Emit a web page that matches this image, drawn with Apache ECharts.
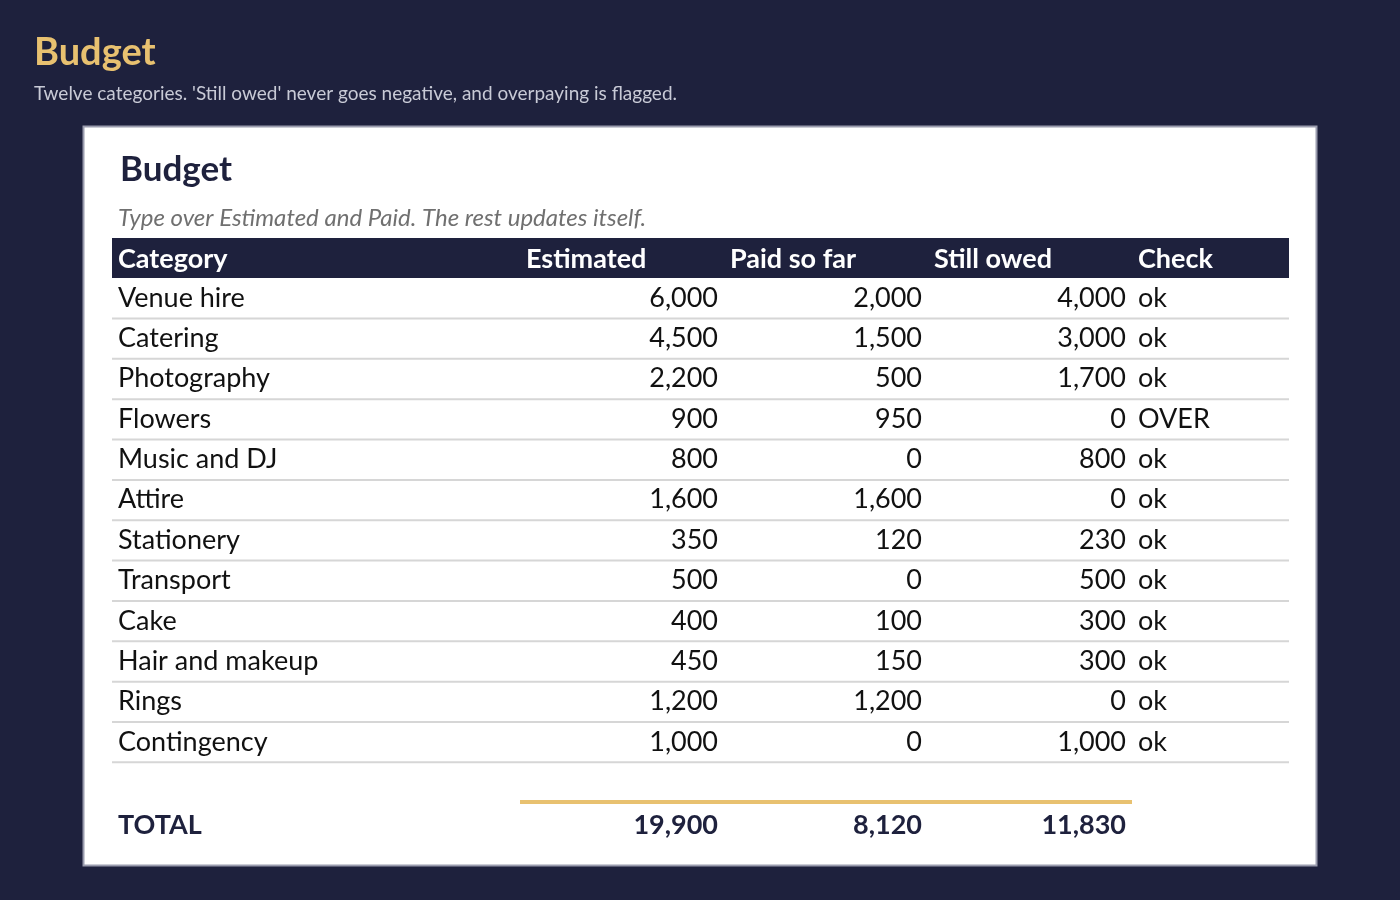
<!DOCTYPE html>
<html>
<head>
<meta charset="utf-8">
<script src="https://cdn.jsdelivr.net/npm/echarts@6/dist/echarts.min.js"></script>
<style>html,body{margin:0;padding:0;background:#1e213d;}#main{width:1400px;height:900px;}</style>
</head>
<body>
<div id="main"></div>
<script>
// table data
var headers = ['Category', 'Estimated', 'Paid so far', 'Still owed', 'Check'];
var categories = ['Venue hire','Catering','Photography','Flowers','Music and DJ','Attire','Stationery','Transport','Cake','Hair and makeup','Rings','Contingency'];
var estimated = [6000,4500,2200,900,800,1600,350,500,400,450,1200,1000];
var paid = [2000,1500,500,950,0,1600,120,0,100,150,1200,0];
var owed = [4000,3000,1700,0,800,0,230,500,300,300,0,1000];
var checks = ['ok','ok','ok','OVER','ok','ok','ok','ok','ok','ok','ok','ok'];
var totals = [19900, 8120, 11830];

var chart = echarts.init(document.getElementById('main'));
var font = 'Lato, "Open Sans", sans-serif';
function fmt(v){ return v.toLocaleString('en-US'); }

var els = [];
els.push({type:'text', left:34, top:34, style:{text:'Budget', fill:'#e8c170', font:'bold 38px ' + font}});
els.push({type:'text', left:34, top:84, style:{text:"Twelve categories. 'Still owed' never goes negative, and overpaying is flagged.", fill:'#c8cad6', font:'19px ' + font}});
els.push({type:'rect', shape:{x:83.5, y:126.5, width:1233, height:739}, style:{fill:'#fff', stroke:'#9a9cae', lineWidth:2}});
els.push({type:'text', x:120, y:170, style:{text:'Budget', fill:'#1e213d', font:'bold 35px ' + font, verticalAlign:'middle'}});
els.push({type:'text', x:118, y:218, style:{text:'Type over Estimated and Paid. The rest updates itself.', fill:'#707070', font:'italic 24px ' + font, verticalAlign:'middle'}});
els.push({type:'rect', shape:{x:112, y:238, width:1177, height:40}, style:{fill:'#1e213d'}});

var headX = [118, 526, 730, 934, 1138];
for (var h = 0; h < headers.length; h++) {
  els.push({type:'text', x:headX[h], y:259, style:{text:headers[h], fill:'#fff', font:'bold 27px ' + font, verticalAlign:'middle'}});
}

var rowY0 = 298, rowH = 40.35;
for (var i = 0; i < categories.length; i++) {
  var y = rowY0 + i * rowH;
  var base = {fill:'#111', font:'27px ' + font, verticalAlign:'middle'};
  els.push({type:'text', x:118, y:y, style:Object.assign({text:categories[i]}, base)});
  els.push({type:'text', x:718, y:y, style:Object.assign({text:fmt(estimated[i]), align:'right'}, base)});
  els.push({type:'text', x:922, y:y, style:Object.assign({text:fmt(paid[i]), align:'right'}, base)});
  els.push({type:'text', x:1126, y:y, style:Object.assign({text:fmt(owed[i]), align:'right'}, base)});
  els.push({type:'text', x:1138, y:y, style:Object.assign({text:checks[i]}, base)});
  els.push({type:'line', shape:{x1:112, y1:y + 20.5, x2:1289, y2:y + 20.5}, style:{stroke:'#d6d6d6', lineWidth:2}});
}

els.push({type:'line', shape:{x1:520, y1:802, x2:1132, y2:802}, style:{stroke:'#e8c170', lineWidth:4}});
var tb = {fill:'#1e213d', font:'bold 27px ' + font, verticalAlign:'middle'};
els.push({type:'text', x:118, y:825, style:Object.assign({text:'TOTAL'}, tb)});
var totX = [718, 922, 1126];
for (var t = 0; t < totals.length; t++) {
  els.push({type:'text', x:totX[t], y:825, style:Object.assign({text:fmt(totals[t]), align:'right'}, tb)});
}

chart.setOption({
  backgroundColor:'#1e213d',
  animation:false,
  graphic:{elements:els}
});
</script>
</body>
</html>
